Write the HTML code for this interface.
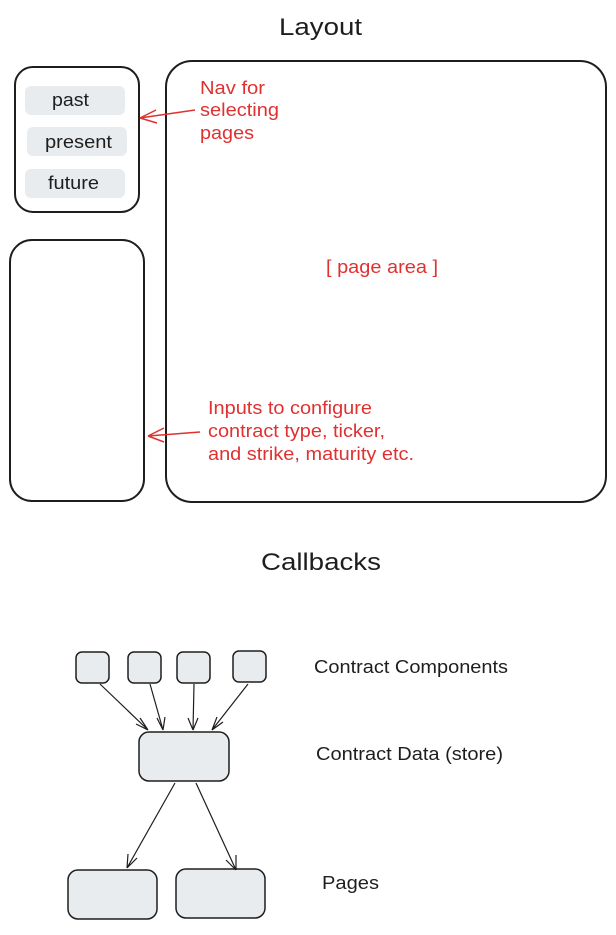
<!DOCTYPE html>
<html><head><style>
body{margin:0;background:#fff;width:616px;height:930px;overflow:hidden;font-family:"Liberation Sans",sans-serif}
svg text{font-family:"Liberation Sans",sans-serif}
</style></head><body>
<svg width="616" height="930" xmlns="http://www.w3.org/2000/svg">
<text x="279" y="35" font-size="24" textLength="83" lengthAdjust="spacingAndGlyphs" fill="#1e1e1e">Layout</text>
<rect x="15" y="67" width="124" height="145" rx="18" fill="none" stroke="#1e1e1e" stroke-width="2"/>
<rect x="25" y="86" width="100" height="29" rx="6" fill="#e9ecef"/>
<rect x="27" y="127" width="100" height="29" rx="6" fill="#e9ecef"/>
<rect x="25" y="169" width="100" height="29" rx="6" fill="#e9ecef"/>
<text x="52" y="106" font-size="18" textLength="37" lengthAdjust="spacingAndGlyphs" fill="#1e1e1e">past</text>
<text x="45" y="148" font-size="18" textLength="67" lengthAdjust="spacingAndGlyphs" fill="#1e1e1e">present</text>
<text x="48" y="189" font-size="18" textLength="51" lengthAdjust="spacingAndGlyphs" fill="#1e1e1e">future</text>
<rect x="10" y="240" width="134" height="261" rx="22" fill="none" stroke="#1e1e1e" stroke-width="2"/>
<rect x="166" y="61" width="440" height="441" rx="26" fill="none" stroke="#1e1e1e" stroke-width="2"/>
<g fill="#e03131" font-size="18">
<text x="200" y="94" textLength="65" lengthAdjust="spacingAndGlyphs">Nav for</text>
<text x="200" y="116" textLength="79" lengthAdjust="spacingAndGlyphs">selecting</text>
<text x="200" y="139" textLength="54" lengthAdjust="spacingAndGlyphs">pages</text>
<text x="326" y="273" textLength="112" lengthAdjust="spacingAndGlyphs">[ page area ]</text>
<text x="208" y="414" textLength="164" lengthAdjust="spacingAndGlyphs">Inputs to configure</text>
<text x="208" y="437" textLength="177" lengthAdjust="spacingAndGlyphs">contract type, ticker,</text>
<text x="208" y="460" textLength="206" lengthAdjust="spacingAndGlyphs">and strike, maturity etc.</text>
</g>
<g stroke="#e03131" fill="none" stroke-width="1.5">
<path d="M195 110 L140 118 M140 118 L156 110 M140 118 L157 123"/>
<path d="M200 432 L148 436 M148 436 L164 428 M148 436 L164 442"/>
</g>
<text x="261" y="570" font-size="24" textLength="120" lengthAdjust="spacingAndGlyphs" fill="#1e1e1e">Callbacks</text>
<g fill="#e9ecef" stroke="#1e1e1e" stroke-width="1.5">
<rect x="76" y="652" width="33" height="31" rx="6"/>
<rect x="128" y="652" width="33" height="31" rx="6"/>
<rect x="177" y="652" width="33" height="31" rx="6"/>
<rect x="233" y="651" width="33" height="31" rx="6"/>
<rect x="139" y="732" width="90" height="49" rx="10"/>
<rect x="68" y="870" width="89" height="49" rx="10"/>
<rect x="176" y="869" width="89" height="49" rx="10"/>
</g>
<g stroke="#1e1e1e" fill="none" stroke-width="1.2">
<path d="M100 684 L148 730 M148 730 L140 718 M148 730 L136 724"/>
<path d="M150 684 L163 730 M163 730 L157 718 M163 730 L165 717"/>
<path d="M194 684 L193 730 M193 730 L188 718 M193 730 L198 718"/>
<path d="M248 684 L212 730 M212 730 L217 717 M212 730 L223 722"/>
<path d="M175 783 L127 868 M127 868 L128 854 M127 868 L137 858"/>
<path d="M196 783 L236 870 M236 870 L226 860 M236 870 L236 855"/>
</g>
<g fill="#1e1e1e" font-size="18">
<text x="314" y="673" textLength="194" lengthAdjust="spacingAndGlyphs">Contract Components</text>
<text x="316" y="760" textLength="187" lengthAdjust="spacingAndGlyphs">Contract Data (store)</text>
<text x="322" y="889" textLength="57" lengthAdjust="spacingAndGlyphs">Pages</text>
</g>
</svg>
</body></html>
